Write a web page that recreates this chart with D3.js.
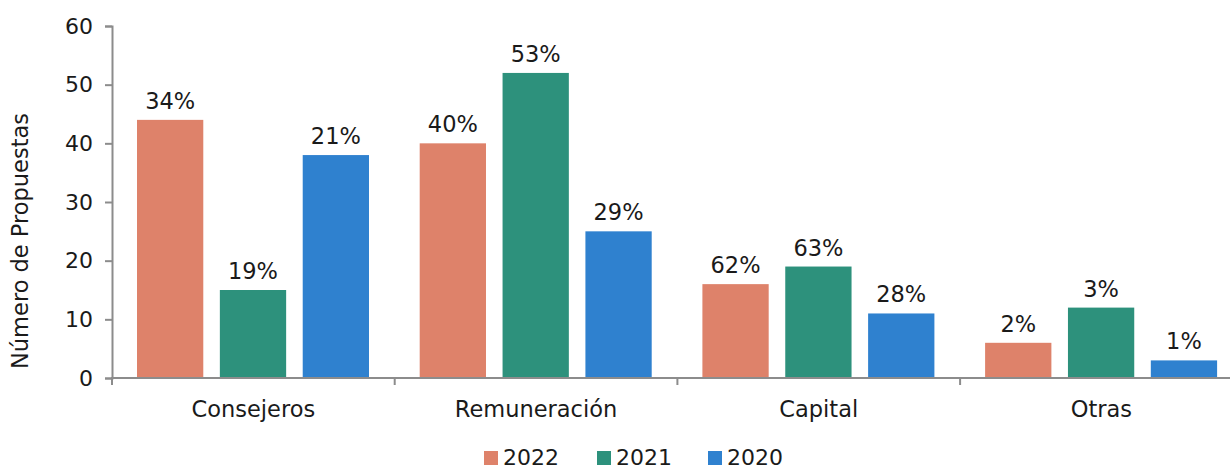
<!DOCTYPE html>
<html><head><meta charset="utf-8">
<script src="https://cdn.jsdelivr.net/npm/d3@7"></script>
<style>body{margin:0;background:#fff}</style>
</head><body>
<svg id="c" width="1230" height="471"></svg>
<script>
const categories = ["Consejeros", "Remuneración", "Capital", "Otras"];
const seriesNames = ["2022", "2021", "2020"];
const values2022 = [44, 40, 16, 6];
const values2021 = [15, 52, 19, 12];
const values2020 = [38, 25, 11, 3];
const labels2022 = ["34%", "40%", "62%", "2%"];
const labels2021 = ["19%", "53%", "63%", "3%"];
const labels2020 = ["21%", "29%", "28%", "1%"];
const yTicks = [0, 10, 20, 30, 40, 50, 60];
const colors = ["#DE826A", "#2D917C", "#2F81CF"];

(function () {
const series = [
  {name: seriesNames[0], values: values2022, labels: labels2022, color: colors[0]},
  {name: seriesNames[1], values: values2021, labels: labels2021, color: colors[1]},
  {name: seriesNames[2], values: values2020, labels: labels2020, color: colors[2]}
];

const svg = d3.select("#c");
const font = "'DejaVu Sans', sans-serif";
const txt = "#1a1a1a", axisCol = "#8c8c8c";
const mLeft = 112, mTop = 26, mBottom = 378, bandW = 282.7;

const x0 = d3.scaleBand().domain(categories).range([mLeft, mLeft + bandW * categories.length]).padding(0);
const x1 = d3.scaleBand().domain(seriesNames).range([25, 257]).paddingInner(0.2).paddingOuter(0);
const y = d3.scaleLinear().domain([0, 60]).range([mBottom, mTop]);

const g = svg.append("g");
series.forEach(s => {
  categories.forEach((c, i) => {
    g.append("rect")
      .attr("x", x0(c) + x1(s.name))
      .attr("y", y(s.values[i]))
      .attr("width", x1.bandwidth())
      .attr("height", y(0) - y(s.values[i]))
      .attr("fill", s.color);
    g.append("text")
      .attr("x", x0(c) + x1(s.name) + x1.bandwidth() / 2)
      .attr("y", y(s.values[i]) - 11)
      .attr("text-anchor", "middle")
      .attr("font-family", font).attr("font-size", 22.5).attr("fill", txt)
      .text(s.labels[i]);
  });
});

const yAxis = svg.append("g").attr("transform", `translate(${mLeft},0)`)
  .call(d3.axisLeft(y).tickValues(yTicks).tickSize(7).tickPadding(12));
yAxis.select(".domain").attr("stroke", axisCol).attr("stroke-width", 2);
yAxis.selectAll(".tick line").attr("stroke", axisCol).attr("stroke-width", 2);
yAxis.selectAll("text").attr("font-family", font).attr("font-size", 22).attr("fill", txt);

const xAxis = svg.append("g").attr("transform", `translate(0,${mBottom})`);
xAxis.append("line").attr("x1", mLeft - 1).attr("x2", 1230).attr("y1", 0).attr("y2", 0)
  .attr("stroke", axisCol).attr("stroke-width", 2);
categories.forEach(c => {
  xAxis.append("line").attr("x1", x0(c)).attr("x2", x0(c)).attr("y1", 0).attr("y2", 7)
    .attr("stroke", axisCol).attr("stroke-width", 2);
  xAxis.append("text").attr("x", x0(c) + x0.bandwidth() / 2).attr("y", 39)
    .attr("text-anchor", "middle").attr("font-family", font).attr("font-size", 22.5).attr("fill", txt)
    .text(c);
});

svg.append("text").attr("transform", "translate(28,241) rotate(-90)")
  .attr("text-anchor", "middle").attr("font-family", font).attr("font-size", 22.5).attr("fill", txt)
  .text("Número de Propuestas");

const legendX = [484, 597, 708];
series.forEach((s, i) => {
  svg.append("rect").attr("x", legendX[i]).attr("y", 451).attr("width", 14).attr("height", 14).attr("fill", s.color);
  svg.append("text").attr("x", legendX[i] + 19).attr("y", 465)
    .attr("font-family", font).attr("font-size", 22).attr("fill", txt).text(s.name);
});
})();
</script>
</body></html>
